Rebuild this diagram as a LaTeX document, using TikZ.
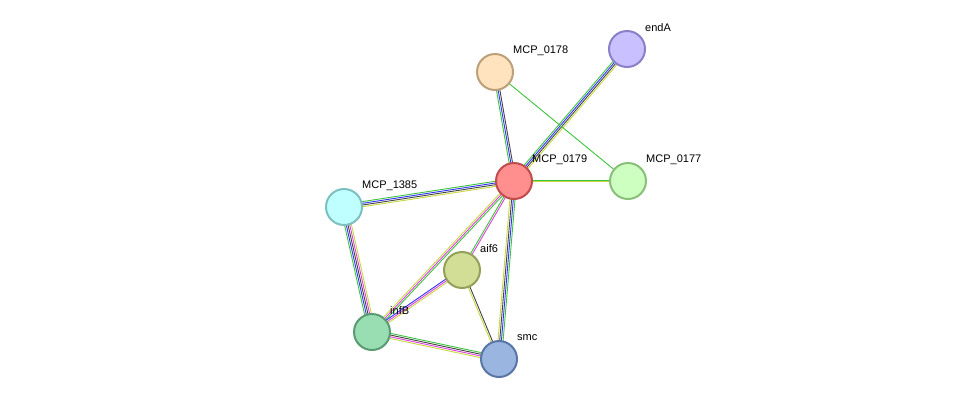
\documentclass[tikz,border=0pt]{standalone}
\usepackage{fontspec}
\setmainfont{Liberation Sans}
\usetikzlibrary{calc,backgrounds}
\definecolor{egreen}{HTML}{3CC43C}
\definecolor{eblue}{HTML}{3333FF}
\definecolor{eblack}{HTML}{444444}
\definecolor{eyellow}{HTML}{C8D842}
\definecolor{emag}{HTML}{E040E0}
\newcommand\multiedge[3]{%
  \foreach \c [count=\i] in {#3} {\xdef\nedges{\i}}
  \foreach \c [count=\i] in {#3} {
    \pgfmathsetmacro\off{(\i-(\nedges+1)/2)*1.7}
    \draw[\c, line width=0.9pt] ($(#1)!\off pt!90:(#2)$) -- ($(#2)!\off pt!-90:(#1)$);
  }
}
\begin{document}
\begin{tikzpicture}[x=1pt, y=-1pt,
  prot/.style = {draw, circle, line width=2pt, minimum size=36pt, inner sep=0pt},
  lbl/.style = {anchor=west, font=\fontsize{11}{13}\selectfont, inner sep=0pt}]
  \useasboundingbox (0,0) rectangle (976,405);
  \node[prot, fill={rgb,255:red,255;green,142;blue,142}, draw={rgb,255:red,192;green,76;blue,76}] (m179) at (514,181) {};
  \node[prot, fill={rgb,255:red,255;green,227;blue,190}, draw={rgb,255:red,187;green,160;blue,122}] (m178) at (495,72) {};
  \node[prot, fill={rgb,255:red,200;green,192;blue,255}, draw={rgb,255:red,138;green,128;blue,200}] (enda) at (627,49) {};
  \node[prot, fill={rgb,255:red,204;green,255;blue,192}, draw={rgb,255:red,136;green,192;blue,122}] (m177) at (628,181) {};
  \node[prot, fill={rgb,255:red,192;green,255;blue,255}, draw={rgb,255:red,124;green,192;blue,192}] (m1385) at (344,207) {};
  \node[prot, fill={rgb,255:red,210;green,221;blue,150}, draw={rgb,255:red,147;green,160;blue,90}] (aif6) at (462,270) {};
  \node[prot, fill={rgb,255:red,153;green,221;blue,179}, draw={rgb,255:red,90;green,156;blue,114}] (infb) at (372,332) {};
  \node[prot, fill={rgb,255:red,154;green,181;blue,224}, draw={rgb,255:red,90;green,118;blue,166}] (smc) at (499,359) {};
  % labels
  \foreach \n/\t in {m179/MCP\_0179, m178/MCP\_0178, enda/endA, m177/MCP\_0177,
                     m1385/MCP\_1385, aif6/aif6, infb/infB, smc/smc}
    \node[lbl] (\n-l) at ($(\n)+(18,-21)$) {\t};
  % edges
  \begin{scope}[on background layer]
    \multiedge{m179}{m178}{eblack,eblue,egreen}
    \multiedge{m179}{enda}{eyellow,eblack,eblue,egreen}
    \multiedge{m179}{m177}{eyellow,egreen}
    \multiedge{m178}{m177}{egreen}
    \multiedge{m179}{m1385}{egreen,eblue,eblack,eyellow}
    \multiedge{m179}{aif6}{egreen,emag}
    \multiedge{m179}{infb}{eyellow,emag,egreen}
    \multiedge{m179}{smc}{eyellow,eblack,eblue,egreen}
    \multiedge{m1385}{infb}{egreen,eblue,eblack,emag,eyellow}
    \multiedge{aif6}{smc}{eyellow,eblack}
    \multiedge{infb}{smc}{eyellow,emag,eblack,egreen}
    \multiedge{infb}{aif6}{eyellow,emag,eblue}
  \end{scope}
\end{tikzpicture}
\end{document}
